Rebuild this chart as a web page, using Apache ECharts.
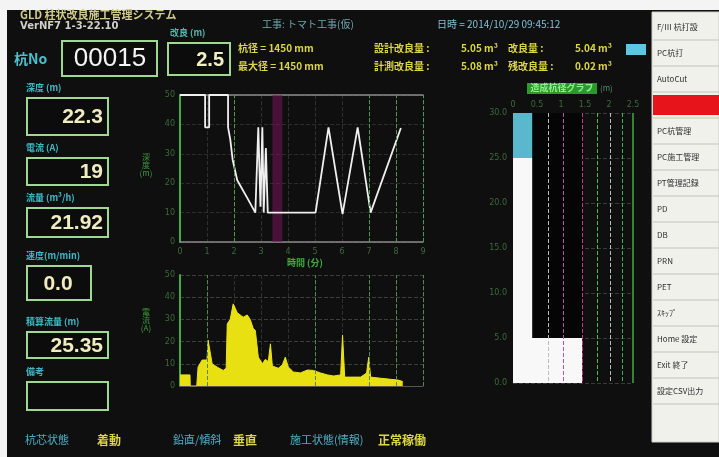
<!DOCTYPE html>
<html><head><meta charset="utf-8">
<script src="https://cdn.jsdelivr.net/npm/echarts@6/dist/echarts.min.js"></script>
<style>html,body{margin:0;padding:0;background:#fff}#c{width:719px;height:457px}</style>
</head><body><div id="c"></div>
<script>
// ---- data ----
const upperTime  = [0, 0.93, 0.93, 1.08, 1.08, 1.78, 1.78, 1.86, 1.95, 2.12, 2.49, 2.79, 2.9, 2.98, 3.05, 3.1, 3.18, 3.25, 5.02, 5.5, 6.02, 6.58, 7.06, 8.18];
const upperDepth = [50, 50, 39, 39, 50, 50, 39, 35, 28, 21, 15, 10, 39, 12, 39, 10, 32, 10, 10, 39, 9.5, 39, 10, 38.8];
const lowerTime    = [0, 0.37, 0.38, 0.62, 0.67, 0.82, 1.0, 1.04, 1.19, 1.38, 1.6, 1.71, 1.75, 1.86, 1.97, 2.12, 2.23, 2.34, 2.49, 2.6, 2.71, 2.79, 2.9, 3.05, 3.16, 3.27, 3.35, 3.42, 3.64, 3.79, 3.9, 4.01, 4.2, 4.46, 4.72, 4.94, 5.2, 5.46, 5.69, 5.95, 6.02, 6.1, 6.32, 6.69, 6.91, 6.99, 7.06, 7.43, 7.81, 8.07, 8.25];
const lowerCurrent = [5, 5, 0, 0, 8.6, 11.7, 11.7, 20.7, 10, 8.5, 7, 8, 28, 30, 37, 33, 32, 31, 32, 30, 26, 25, 13, 10, 12, 11, 19, 9, 8, 9.5, 13, 8.6, 6.3, 5.9, 7.2, 7, 5.9, 5, 4.5, 5, 23, 4, 4, 4, 5.8, 13, 4, 3.5, 3, 2.7, 2];
const depthBins  = ['0-5', '5-10', '10-15', '15-20', '20-25', '25-30'];
const shaftDiam  = [0.4, 0.4, 0.4, 0.4, 0.4, 1.44];
const designDiam = [1.44, 1.44, 1.44, 1.44, 1.44, 1.44];
const upperMarkX = [2, 7, 8, 9];
const lowerMarkX = [1, 5, 7, 8, 9];
const rightRefX  = [0.73, 1.04, 1.44, 1.75, 2.02, 2.27, 2.5];
const bandX      = [3.42, 3.79];
const menuItems  = ['F/Ⅲ 杭打設', 'PC杭打', 'AutoCut', '', 'PC杭管理', 'PC施工管理', 'PT管理記録', 'PD', 'DB', 'PRN', 'PET', 'ｽｷｯﾌﾟ', 'Home 設定', 'Exit 終了', '設定CSV出力'];
const leftFields = [
  {label: '深度 (m)', value: '22.3'},
  {label: '電流 (A)', value: '19'},
  {label: '流量 (m³/h)', value: '21.92'},
  {label: '速度(m/min)', value: '0.0'},
  {label: '積算流量 (m)', value: '25.35'},
  {label: '備考', value: ''}
];

// ---- layout ----
const JP = '"Noto Sans CJK JP"';
const g = [];
function T(x, y, s, fill, font, align) {
  g.push({type: 'text', x: x, y: y, z: 20, style: {text: s, fill: fill, font: font, align: align || 'left', verticalAlign: 'middle'}});
}
function R(x, y, w, h, fill, stroke, lw) {
  g.push({type: 'rect', z: 10, shape: {x: x, y: y, width: w, height: h}, style: {fill: fill, stroke: stroke || null, lineWidth: lw || 0}});
}
// white photo border
R(0, 0, 719, 10, '#f4f4f4');
R(0, 0, 7, 457, '#f4f4f4');

// header
T(20, 15, 'GLD 柱状改良施工管理システム', '#cfcb88', 'bold 11px ' + JP);
T(20, 26, 'VerNF7 1-3-22.10', '#d0d0c8', 'bold 10px "DejaVu Sans"');
T(14, 59, '杭No', '#4cc0d0', 'bold 14px ' + JP);
R(62, 41, 95, 35, '#0b0c0b', '#9fd890', 2);
T(110, 59, '00015', '#f4f4f4', '26px "Liberation Sans"', 'center');
T(170, 33, '改良 (m)', '#4cb8b0', 'bold 9px ' + JP);
R(168, 43, 62, 32, '#0b0c0b', '#9fd890', 2);
T(224, 60, '2.5', '#f3efc4', 'bold 20px "Liberation Sans"', 'right');

T(262, 24, '工事: トマト工事(仮)', '#6fa8b0', '10px ' + JP);
T(437, 24, '日時 = 2014/10/29 09:45:12', '#7fc0d8', '10px ' + JP);
const Y = '#dcd640';
T(238, 48, '杭径 = 1450 mm', Y, 'bold 10px ' + JP);
T(238, 66, '最大径 = 1450 mm', Y, 'bold 10px ' + JP);
T(374, 48, '設計改良量 :', Y, 'bold 10px ' + JP);
T(374, 66, '計測改良量 :', Y, 'bold 10px ' + JP);
T(498, 48, '5.05 m³', Y, 'bold 10px ' + JP, 'right');
T(498, 66, '5.08 m³', Y, 'bold 10px ' + JP, 'right');
T(508, 48, '改良量 :', Y, 'bold 10px ' + JP);
T(508, 66, '残改良量 :', Y, 'bold 10px ' + JP);
T(612, 48, '5.04 m³', Y, 'bold 10px ' + JP, 'right');
T(612, 66, '0.02 m³', Y, 'bold 10px ' + JP, 'right');
R(626, 44, 20, 11, '#5ac8e0');

// left panel
const boxes = [[98, 37, 81], [158, 27, 81], [208, 29, 81], [266, 34, 64], [332, 26, 81], [382, 28, 81]];
leftFields.forEach((f, i) => {
  const b = boxes[i];
  T(26, b[0] - 10, f.label, '#3fb8c8', 'bold 9px ' + JP);
  R(27, b[0], b[2], b[1], '#0b0c0b', '#9fd890', 2);
  if (f.value) T(i === 3 ? 58 : 103, b[0] + b[1] / 2 + 1, f.value, '#f0ecc0', 'bold 21px "Liberation Sans"', i === 3 ? 'center' : 'right');
});

// vertical axis names
T(146, 165, '深\n度\n(m)', '#3f9a3f', '8px ' + JP, 'center');
T(146, 320, '電\n流\n(A)', '#3f9a3f', '8px ' + JP, 'center');
T(305, 263, '時間 (分)', '#3fae3f', 'bold 9px ' + JP, 'center');
// right chart title
R(527, 83, 70, 11, '#2a9a2a');
T(562, 88, '造成杭径グラフ', '#8ff08f', 'bold 9px ' + JP, 'center');
T(600, 88, '(m)', '#5a8a6a', '8px ' + JP);

// bottom status
T(25, 440, '杭芯状態', '#4cb0c8', '11px ' + JP);
T(97, 440, '着動', '#dcd640', 'bold 12px ' + JP);
T(173, 440, '鉛直/傾斜', '#4cb0c8', '11px ' + JP);
T(233, 440, '垂直', '#dcd640', 'bold 12px ' + JP);
T(290, 440, '施工状態(情報)', '#4cb0c8', '11px ' + JP);
T(378, 440, '正常稼働', '#dcd640', 'bold 12px ' + JP);

// menu
R(652, 12, 67, 430, '#f1f1ec', '#cfcfc8', 1);
menuItems.forEach((s, i) => {
  const cy = 27 + 26 * i;
  if (i === 3) R(653, cy - 10, 66, 20, '#e8141c');
  g.push({type: 'line', z: 15, shape: {x1: 653, y1: cy + 13, x2: 719, y2: cy + 13}, style: {stroke: '#c4c4bc', lineWidth: 1}});
  if (s) T(657, cy, s, '#2e2e2e', '8px ' + JP);
});

// ---- charts ----
const dimLabel = {color: '#3d6b3d', fontSize: 8, fontFamily: 'DejaVu Sans'};
const vLines = (arr, color) => ({
  silent: true, symbol: 'none', label: {show: false},
  lineStyle: {color: color, type: 'dashed', width: 1},
  data: arr.map(v => ({xAxis: v}))
});
const option = {
  backgroundColor: '#0e0f0e',
  animation: false,
  graphic: g,
  grid: [
    {left: 180, top: 95, width: 243, height: 147},
    {left: 180, top: 275, width: 243, height: 111},
    {left: 513, top: 113, width: 120, height: 270}
  ],
  xAxis: [
    {gridIndex: 0, type: 'value', min: 0, max: 9, interval: 1,
     axisLine: {lineStyle: {color: '#8a8a8a', width: 1.5}}, axisTick: {show: false},
     axisLabel: Object.assign({margin: 6}, dimLabel),
     splitLine: {lineStyle: {color: '#2a332a', type: 'dashed'}}},
    {gridIndex: 0, type: 'value', min: 0, max: 9, position: 'top',
     axisLine: {lineStyle: {color: '#8a8a8a', width: 1.5}}, axisTick: {show: false}, axisLabel: {show: false}, splitLine: {show: false}},
    {gridIndex: 1, type: 'value', min: 0, max: 9, interval: 1,
     axisLine: {lineStyle: {color: '#555', width: 1}}, axisTick: {show: false}, axisLabel: {show: false},
     splitLine: {lineStyle: {color: '#2a332a', type: 'dashed'}}},
    {gridIndex: 2, type: 'value', min: 0, max: 2.5, interval: 0.5, position: 'top',
     axisLine: {show: false}, axisTick: {show: false},
     axisLabel: Object.assign({margin: 4}, dimLabel), splitLine: {show: false}}
  ],
  yAxis: [
    {gridIndex: 0, type: 'value', min: 0, max: 50, interval: 10,
     axisLine: {show: true, lineStyle: {color: '#3fae3f', width: 2}}, axisTick: {show: false},
     axisLabel: Object.assign({margin: 5}, dimLabel),
     splitLine: {lineStyle: {color: '#2c2c2c', type: 'dashed'}}},
    {gridIndex: 1, type: 'value', min: 0, max: 50, interval: 10,
     axisLine: {show: true, lineStyle: {color: '#3fae3f', width: 2}}, axisTick: {show: false},
     axisLabel: Object.assign({margin: 5}, dimLabel),
     splitLine: {lineStyle: {color: '#3a3f3a', type: 'dashed'}}},
    {gridIndex: 2, type: 'value', min: 0, max: 30, interval: 5,
     axisLine: {show: false}, axisTick: {show: false},
     axisLabel: Object.assign({margin: 6, formatter: v => v.toFixed(1)}, dimLabel),
     splitLine: {lineStyle: {color: '#3a3a3a', type: 'dashed'}}},
    {gridIndex: 2, type: 'category', data: depthBins, inverse: true, show: false}
  ],
  series: [
    {type: 'line', xAxisIndex: 0, yAxisIndex: 0, symbol: 'none',
     data: upperTime.map((t, i) => [t, upperDepth[i]]),
     lineStyle: {color: '#f0f0f0', width: 1.8},
     markArea: {silent: true, itemStyle: {color: 'rgba(120,20,90,0.55)'}, data: [[{xAxis: bandX[0]}, {xAxis: bandX[1]}]]},
     markLine: vLines(upperMarkX, '#4f9a4f')},
    {type: 'line', xAxisIndex: 2, yAxisIndex: 1, symbol: 'none',
     data: lowerTime.map((t, i) => [t, lowerCurrent[i]]),
     lineStyle: {color: '#eee21a', width: 1},
     areaStyle: {color: '#e8e010', opacity: 1},
     markLine: vLines(lowerMarkX, '#4f8a4f')},
    {type: 'bar', xAxisIndex: 3, yAxisIndex: 3, data: designDiam, barWidth: '100%', barGap: '-100%',
     itemStyle: {color: '#050505'}, silent: true,
     markLine: {silent: true, symbol: 'none', label: {show: false},
       data: rightRefX.map((v, i) => ({xAxis: v, lineStyle: {
         color: ['#bbbbbb', '#c04cc0', '#c03c90', '#4cc04c', '#bbbbbb', '#3fae5f', '#3fae3f'][i],
         type: i === 6 ? 'solid' : 'dashed', width: i === 6 ? 1.5 : 1}}))}},
    {type: 'bar', xAxisIndex: 3, yAxisIndex: 3, barWidth: '100%', barGap: '-100%', silent: true,
     data: shaftDiam.map((v, i) => ({value: v, itemStyle: {color: i === 0 ? '#5ab8cc' : '#f8f8f8'}}))}
  ]
};
echarts.init(document.getElementById('c')).setOption(option);
</script></body></html>
